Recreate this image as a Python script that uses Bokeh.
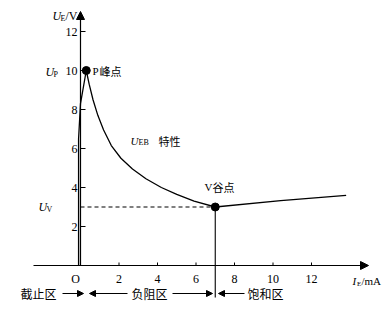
from bokeh.plotting import figure
from bokeh.models import Arrow, NormalHead, Range1d
from bokeh.core.properties import value
from bokeh.embed import file_html
from bokeh.resources import INLINE

# ---- data ----
x_ticks = [2, 4, 6, 8, 10, 12]
y_ticks = [2, 4, 6, 8, 12]
cut_i = [-0.1, -0.1, 0.0, 0.3]
cut_u = [0.0, 6.5, 8.3, 10.0]
neg_i = [0.3, 0.45, 0.65, 0.9, 1.2, 1.6, 2.1, 2.7, 3.4, 4.2, 5.0, 5.9, 7.0]
neg_u = [10.0, 9.3, 8.5, 7.7, 6.95, 6.15, 5.5, 4.95, 4.45, 4.0, 3.65, 3.3, 3.0]
sat_i = [7.0, 10.4, 13.8]
sat_u = [3.0, 3.33, 3.6]
peak_i, peak_u = [0.3], [10.0]
valley_i, valley_u = [7.0], [3.0]

# pixel mapping of the reference (origin at px 80,265)
X0, SX = 80.0, 19.25
Y0, SY = 265.0, 19.5
W, H = 392, 310


def di(px):
    return (px - X0) / SX


def du(py):
    return (Y0 - py) / SY


p = figure(width=W, height=H, min_border=0, toolbar_location=None,
           output_backend="svg", x_axis_location=None, y_axis_location=None,
           x_range=Range1d(di(0), di(W)), y_range=Range1d(du(H), du(0)))
p.grid.visible = False
p.outline_line_color = None
p.background_fill_color = "white"

SERIF = "Liberation Serif"
CJK = "Noto Sans CJK SC"


def txt(px, py, s, size="12px", align="left", font=SERIF, style="normal"):
    p.text(x=[di(px)], y=[du(py)], text=[s], text_font=value(font),
           text_font_size=size, text_align=align, text_baseline="middle",
           text_font_style=style, text_color="black")


# axes
p.add_layout(Arrow(end=NormalHead(size=8, fill_color="black", line_color="black"),
                   x_start=di(33), y_start=0, x_end=di(368), y_end=0,
                   line_color="black", line_width=1.2))
p.add_layout(Arrow(end=NormalHead(size=8, fill_color="black", line_color="black"),
                   x_start=0, y_start=0, x_end=0, y_end=du(11),
                   line_color="black", line_width=1.2))

# ticks
p.segment(x0=x_ticks, y0=[0] * len(x_ticks), x1=x_ticks, y1=[3 / SY] * len(x_ticks),
          line_color="black", line_width=1)
yt = y_ticks + [10]
p.segment(x0=[0] * len(yt), y0=yt, x1=[5 / SX] * len(yt), y1=yt,
          line_color="black", line_width=1)

# tick labels
p.text(x=x_ticks, y=[du(278)] * len(x_ticks), text=[str(t) for t in x_ticks],
       text_font=value(SERIF), text_font_size="12px", text_align="center",
       text_baseline="middle", text_color="black")
p.text(x=[di(77)] * (len(yt)), y=yt, text=[str(t) for t in yt],
       text_font=value(SERIF), text_font_size="12px", text_align="right",
       text_baseline="middle", text_color="black")
txt(75, 278, "O", align="center")

# axis titles
txt(52, 15, "U", style="italic")
txt(60, 18, "E", size="8px")
txt(65, 15, "/V")
txt(352, 280, "I", size="11px", style="italic")
txt(356.5, 283, "E", size="7px")
txt(361, 280, "/mA", size="11px")

# curve
p.line(cut_i, cut_u, line_color="black", line_width=1.3)
p.line(neg_i, neg_u, line_color="black", line_width=1.3)
p.line(sat_i, sat_u, line_color="black", line_width=1.3)

# dashed valley level and vertical boundary
p.line([0, valley_i[0]], [valley_u[0], valley_u[0]], line_color="black",
       line_width=1.1, line_dash="4 3")
p.line([valley_i[0], valley_i[0]], [valley_u[0], du(297)], line_color="black",
       line_width=1.1)

# peak / valley points
p.scatter(peak_i, peak_u, size=8, marker="circle", fill_color="black", line_color="black")
p.scatter(valley_i, valley_u, size=8, marker="circle", fill_color="black", line_color="black")

# point labels
txt(45, 71, "U", style="italic")
txt(53, 74, "P", size="8px")
txt(92, 70, "P", size="11px")
txt(99, 70, "峰点", size="11px", font=CJK)
txt(38, 206, "U", style="italic")
txt(46, 209, "V", size="8px")
txt(204, 186, "V", size="11px")
txt(212, 186, "谷点", size="11px", font=CJK)
txt(130, 140, "U", size="11px", style="italic")
txt(138, 142, "EB", size="8px")
txt(158, 140, "特性", size="11px", font=CJK)

# region annotations
RY = du(293)
txt(38, 293, "截止区", size="12px", align="center", font=CJK)
txt(149, 293, "负阻区", size="12px", align="center", font=CJK)
txt(265, 293, "饱和区", size="12px", align="center", font=CJK)


def harrow(px0, px1):
    p.add_layout(Arrow(end=NormalHead(size=6, fill_color="black", line_color="black"),
                       x_start=di(px0), y_start=RY, x_end=di(px1), y_end=RY,
                       line_color="black", line_width=1))


harrow(62, 83)
harrow(127, 89)
harrow(172, 212)
harrow(244, 218)

open("out.html", "w").write(file_html(p, INLINE))
